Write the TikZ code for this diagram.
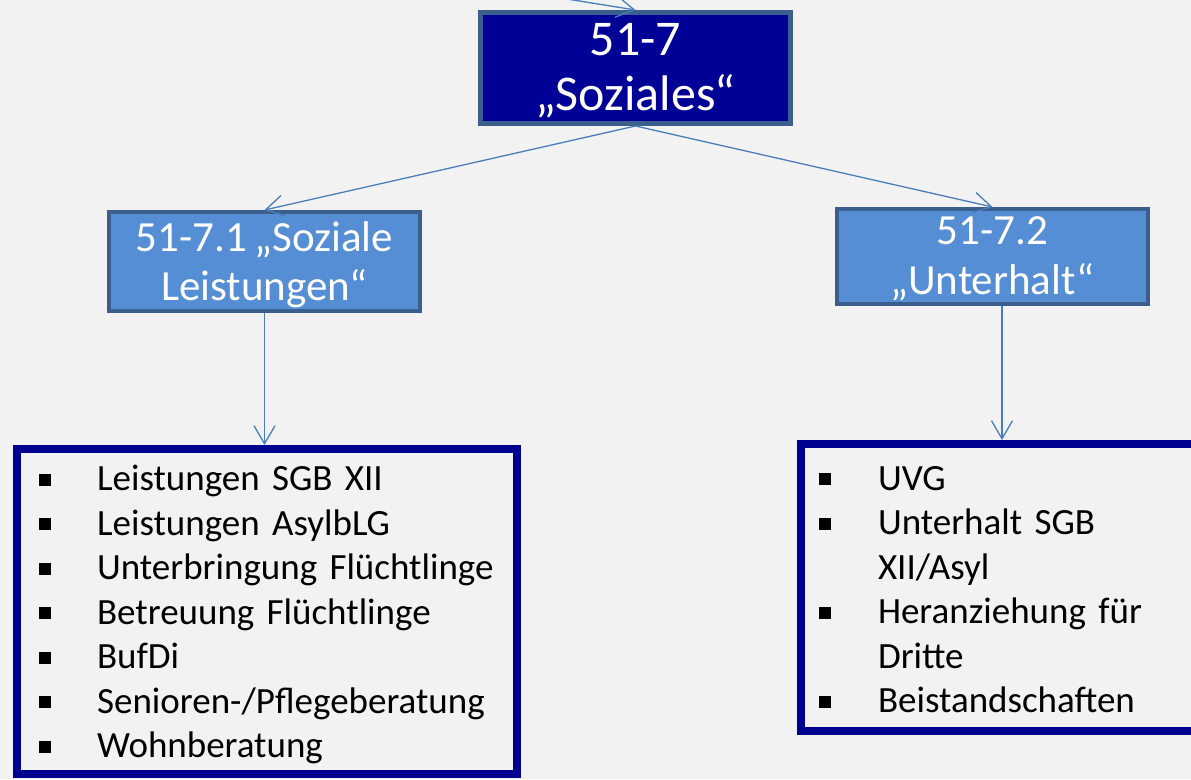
\documentclass[tikz,border=0pt]{standalone}
\usepackage{fontspec}
\setmainfont{Carlito}[WordSpace={0.8,0,0}]
\usetikzlibrary{arrows.meta}
\definecolor{bgcol}{HTML}{F2F2F2}
\definecolor{darkblue}{HTML}{000096}
\definecolor{midblue}{HTML}{558ED5}
\definecolor{frameblue}{HTML}{3A5F8D}
\definecolor{navyframe}{HTML}{000090}
\definecolor{linkblue}{HTML}{4A7EBB}
\begin{document}
\begin{tikzpicture}[x=1pt, y=-1pt,
  arrowline/.style={draw=linkblue, line width=1.3pt, -{Straight Barb[length=18pt, width=21pt]}},
  headbox/.style={draw=frameblue, line width=5pt, fill=darkblue, text=white, inner sep=0pt,
    minimum width=310pt, minimum height=111pt, align=center, font=\fontsize{50}{55}\selectfont},
  subbox/.style={draw=frameblue, line width=4pt, fill=midblue, text=white, inner sep=0pt,
    minimum width=311pt, align=center, text depth=0pt, font=\fontsize{43}{49.5}\selectfont},
  listbox/.style={draw=navyframe, line width=8pt, fill=bgcol, inner ysep=0pt, align=left,
    font=\fontsize{37}{44.5}\selectfont}]
\def\itemgap{58.5pt}
\def\sqitem{\makebox[\itemgap][l]{\rule[5pt]{12pt}{12pt}}}
\useasboundingbox (0,0) rectangle (1191,779);
\fill[bgcol] (0,0) rectangle (1191,779);
\clip (0,0) rectangle (1191,779);

% TOP LEVEL
\node[headbox, text height=84pt, text depth=0pt] (soziales) at (635.5, 68) {51-7\\„Soziales“};
\coordinate (feed) at (430,-23);

% SECOND LEVEL
\node[subbox, minimum height=99pt, text height=78pt] (leistungen) at (264.5, 261.5) {51-7.1 „Soziale\\Leistungen“};
\node[subbox, minimum height=95pt, text height=75.6pt] (unterhalt) at (992.5, 256.5) {51-7.2\\„Unterhalt“};

% LISTS
\node[listbox, text width=456.8pt, inner xsep=21.6pt, minimum height=325pt, text height=32pt] (leistungsliste) at (267, 611.5)
  {\sqitem Leistungen SGB XII\\
   \sqitem Leistungen AsylbLG\\
   \sqitem Unterbringung Flüchtlinge\\
   \sqitem Betreuung Flüchtlinge\\
   \sqitem BufDi\\
   \sqitem Senioren-/Pflegeberatung\\
   \sqitem Wohnberatung};
\def\itemgap{59pt}
\node[listbox, text width=366pt, inner xsep=18pt, minimum height=287pt, text height=28pt] (unterhaltsliste) at (1002, 587.5)
  {\sqitem UVG\\
   \sqitem Unterhalt SGB\\
   \hspace*{\itemgap}XII/Asyl\\
   \sqitem Heranziehung für\\
   \hspace*{\itemgap}Dritte\\
   \sqitem Beistandschaften};

% ARROWS
\draw[arrowline] (feed) -- (soziales.north);
\draw[arrowline] (soziales.south) -- (leistungen.north);
\draw[arrowline] (soziales.south) -- (unterhalt.north);
\draw[arrowline] (leistungen.south) -- (leistungen.south |- leistungsliste.north);
\draw[arrowline] (unterhaltsliste.north |- unterhalt.south) -- (unterhaltsliste.north);
\end{tikzpicture}
\end{document}
